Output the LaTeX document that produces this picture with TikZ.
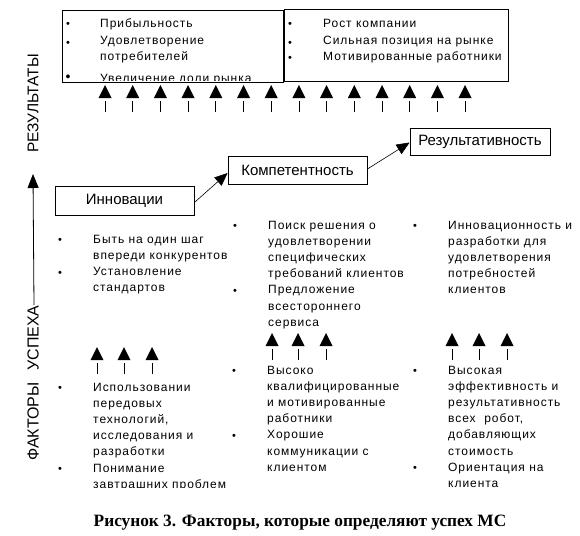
\documentclass[tikz,border=0pt]{standalone}
\usepackage{fontspec}
\setmainfont{Liberation Sans}
\newfontfamily\listfont[LetterSpace=8]{Liberation Sans}
\newfontfamily\capfont{Liberation Serif}
\usetikzlibrary{arrows.meta,calc}
\tikzset{
  txt/.style={font=\listfont\fontsize{12}{14}\selectfont, inner sep=0pt, anchor=base west},
  blt/.style={font=\fontsize{11}{14}\selectfont, inner sep=0pt, anchor=base},
  box/.style={draw, line width=0.8pt, inner sep=0pt, font=\fontsize{15}{17}\selectfont},
  bigbox/.style={draw, line width=0.8pt, inner sep=0pt, anchor=north west},
  link/.style={-{Triangle[length=13pt,width=11pt]}, line width=0.6pt},
  axis/.style={-{Triangle[length=14pt,width=11pt]}, line width=0.8pt},
  side/.style={font=\fontsize{15.5}{17}\selectfont, inner sep=0pt, rotate=90, anchor=west},
  stem/.style={line width=0.8pt},
}
\newcommand\txtcol[4]{%
  \foreach \t [count=\i] in {#4} {\node[txt] (#1\i) at (#2, {#3+16.2*(\i-1)}) {\t};}}
\newcommand\uparr[3]{%
  \coordinate (#3) at (#1,#2);
  \fill (#3) -- ++(6.5,13) -- ++(-13,0) -- cycle;
  \draw[stem] ($(#3)+(0,16)$) -- ++(0,11);}
\begin{document}
\begin{tikzpicture}[x=1pt,y=-1pt]
\useasboundingbox (0,0) rectangle (580,535);
\fill[white] (0,0) rectangle (580,535);
% top result boxes
\node[bigbox, minimum width=221pt, minimum height=72pt] (resL) at (62,10) {};
\node[bigbox, minimum width=224pt, minimum height=72pt] (resR) at (284,9) {};
\node[blt] (bl1) at (68,28) {•};
\node[blt] (bl2) at (68,46) {•};
\node[blt, font=\fontsize{14}{14}\selectfont] (bl3) at (68,81) {•};
\txtcol{tl}{100}{28}{Прибыльность,Удовлетворение,потребителей}
\begin{scope}
  \clip (62,10) rectangle (283,80.5);
  \node[txt] (tl4) at (100,82.5) {Увеличение доли рынка};
\end{scope}
\node[blt] (br1) at (290,28) {•};
\node[blt] (br2) at (290,46) {•};
\node[blt] (br3) at (290,61) {•};
\txtcol{tr}{323}{28}{Рост компании,Сильная позиция на рынке,Мотивированные работники}
% top arrows
\foreach \k in {0,...,13} {\uparr{105+27.7*\k}{85}{ta\k}}
% middle boxes
\node[box, minimum width=139pt, minimum height=29pt] (inn) at (124.5,200.5) {Инновации};
\node[box, minimum width=139pt, minimum height=28pt] (komp) at (297.5,170) {Компетентность};
\node[box, minimum width=140pt, minimum height=27pt] (rez) at (480,141.5) {Результативность};
\draw[link] ([yshift=-2pt]inn.east) -- ([yshift=-3pt]komp.west);
\draw[link] ([yshift=1pt]komp.east) -- ([yshift=-1pt]rez.west);
% side axis
\node[side, font=\fontsize{16}{17}\selectfont] (fs) at (33,461) {ФАКТОРЫ\hspace{12pt}УСПЕХА};
\node[side] (rs) at (33,153) {РЕЗУЛЬТАТЫ};
\coordinate (axtop) at (33,174);
\draw[axis] ([xshift=1pt]fs.east) -- (axtop);
% factor lists, upper row
\node[blt] (f1a) at (60,243) {•};
\node[blt] (f1b) at (60,276) {•};
\txtcol{fa}{93}{243}{Быть на один шаг,впереди конкурентов,Установление,стандартов}
\node[blt] (f2a) at (235,229) {•};
\node[blt] (f2b) at (235,294) {•};
\txtcol{fb}{268}{229}{Поиск решения о,удовлетворении,специфических,требований клиентов,Предложение,всестороннего,сервиса}
\node[blt] (f3a) at (415,229) {•};
\txtcol{fc}{448}{229}{Инновационность и,разработки для,удовлетворения,потребностей,клиентов}
% lower arrows
\foreach \xx/\k in {97/1,124/2,152/3} {\uparr{\xx}{347}{la\k}}
\foreach \xx/\k in {272/1,298/2,326/3} {\uparr{\xx}{333}{ma\k}}
\foreach \xx/\k in {452/1,479/2,507/3} {\uparr{\xx}{333}{ra\k}}
% factor lists, lower row
\node[blt] (g1a) at (60,391) {•};
\node[blt] (g1b) at (60,472) {•};
\txtcol{ga}{93}{391}{Использовании,передовых,{технологий,},исследования и,разработки,Понимание}
\begin{scope}
  \clip (80,470) rectangle (300,487.5);
  \node[txt] (ga7) at (93,488.2) {завтрашних проблем};
\end{scope}
\node[blt] (g2a) at (234,374) {•};
\node[blt] (g2b) at (234,439) {•};
\txtcol{gb}{267}{374}{Высоко,квалифицированные,и мотивированные,работники,Хорошие,коммуникации с,клиентом}
\node[blt] (g3a) at (415,374) {•};
\node[blt] (g3b) at (415,471) {•};
\txtcol{gc}{448}{374}{Высокая,эффективность и,результативность,{всех\ \ робот,},добавляющих,стоимость,Ориентация на,клиента}
% caption
\node[font=\capfont\bfseries\fontsize{17.3}{19}\selectfont, inner sep=0pt] (cap) at (300,523) {Рисунок 3. Факторы, которые определяют успех МС};
\end{tikzpicture}
\end{document}
